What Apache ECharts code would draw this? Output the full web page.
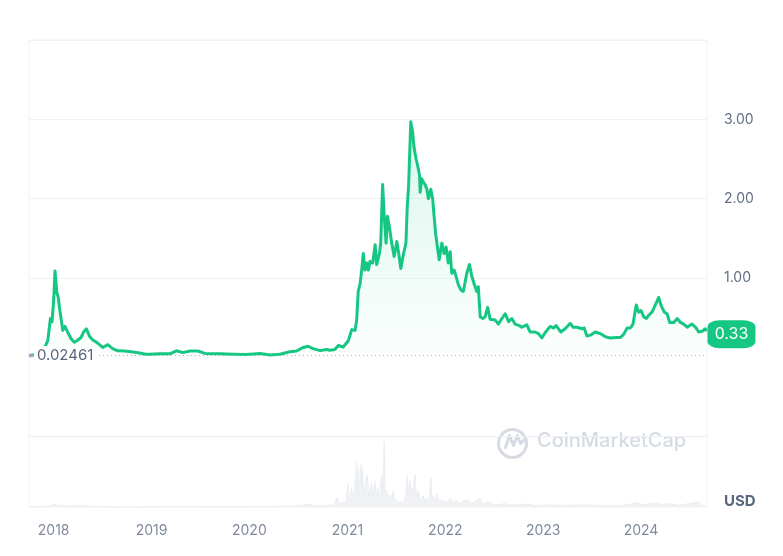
<!DOCTYPE html>
<html>
<head>
<meta charset="utf-8">
<script src="https://cdn.jsdelivr.net/npm/echarts@6/dist/echarts.min.js"></script>
<style>
html,body{margin:0;padding:0;background:#fff;}
#c{width:783px;height:556px;}
</style>
</head>
<body>
<div id="c"></div>
<script>
const priceDates = ['2017-10-01','2017-10-18','2017-11-05','2017-11-20','2017-11-28','2017-12-03','2017-12-10','2017-12-20','2017-12-26','2018-01-01','2018-01-06','2018-01-13','2018-01-18','2018-01-23','2018-01-28','2018-02-04','2018-02-12','2018-02-22','2018-03-07','2018-03-19','2018-03-29','2018-04-13','2018-04-23','2018-05-03','2018-05-14','2018-05-27','2018-06-14','2018-07-03','2018-07-22','2018-08-09','2018-08-28','2018-09-22','2018-10-17','2018-11-18','2018-12-10','2018-12-25','2019-02-01','2019-03-10','2019-04-04','2019-04-28','2019-05-24','2019-06-23','2019-07-19','2019-09-13','2019-10-31','2019-12-21','2020-02-09','2020-03-18','2020-04-24','2020-05-31','2020-06-25','2020-07-20','2020-08-07','2020-08-25','2020-09-21','2020-10-15','2020-10-28','2020-11-15','2020-11-28','2020-12-16','2021-01-04','2021-01-17','2021-01-29','2021-02-04','2021-02-10','2021-02-17','2021-02-23','2021-03-01','2021-03-07','2021-03-14','2021-03-20','2021-03-26','2021-04-05','2021-04-14','2021-04-20','2021-04-30','2021-05-05','2021-05-12','2021-05-18','2021-05-25','2021-05-30','2021-06-06','2021-06-15','2021-06-24','2021-07-04','2021-07-11','2021-07-19','2021-07-28','2021-08-07','2021-08-12','2021-08-17','2021-08-25','2021-09-01','2021-09-06','2021-09-14','2021-09-22','2021-09-27','2021-09-29','2021-10-05','2021-10-11','2021-10-17','2021-10-24','2021-10-30','2021-11-08','2021-11-15','2021-11-20','2021-11-26','2021-11-30','2021-12-09','2021-12-19','2021-12-27','2022-01-04','2022-01-12','2022-01-19','2022-01-25','2022-02-03','2022-02-10','2022-02-19','2022-02-28','2022-03-09','2022-03-22','2022-04-01','2022-04-10','2022-04-18','2022-04-28','2022-05-04','2022-05-11','2022-05-21','2022-05-29','2022-06-08','2022-06-17','2022-07-06','2022-07-18','2022-07-31','2022-08-12','2022-08-25','2022-09-06','2022-09-12','2022-09-18','2022-10-04','2022-10-13','2022-11-01','2022-11-13','2022-12-02','2022-12-14','2022-12-27','2023-01-08','2023-01-27','2023-02-08','2023-02-18','2023-03-08','2023-03-24','2023-04-12','2023-04-22','2023-05-07','2023-05-25','2023-06-03','2023-06-13','2023-06-26','2023-07-14','2023-08-02','2023-08-21','2023-09-08','2023-10-01','2023-10-16','2023-10-28','2023-11-10','2023-11-22','2023-12-02','2023-12-14','2023-12-23','2024-01-01','2024-01-11','2024-01-21','2024-01-29','2024-02-11','2024-02-23','2024-03-07','2024-03-13','2024-03-19','2024-03-28','2024-04-07','2024-04-17','2024-05-02','2024-05-15','2024-05-27','2024-06-08','2024-06-21','2024-07-09','2024-07-22','2024-08-03','2024-08-16','2024-08-28','2024-09-01'];

const prices = [0.0246,0.03,0.035,0.07,0.12,0.14,0.21,0.49,0.45,0.72,1.09,0.81,0.76,0.62,0.60,0.34,0.39,0.32,0.235,0.19,0.21,0.25,0.32,0.36,0.27,0.22,0.18,0.125,0.16,0.11,0.083,0.08,0.07,0.055,0.04,0.04,0.045,0.045,0.083,0.06,0.08,0.08,0.05,0.045,0.04,0.035,0.05,0.03,0.04,0.07,0.08,0.125,0.14,0.11,0.085,0.10,0.09,0.10,0.15,0.13,0.21,0.35,0.34,0.46,0.83,0.93,1.10,1.31,1.10,1.19,1.10,1.21,1.19,1.42,1.17,1.31,1.44,2.18,1.78,1.44,1.78,1.65,1.44,1.27,1.46,1.31,1.12,1.29,1.44,1.91,2.16,2.97,2.84,2.65,2.50,2.38,2.29,2.08,2.25,2.21,2.18,2.12,2.0,2.12,1.99,1.78,1.55,1.57,1.23,1.44,1.31,1.39,1.19,1.33,1.06,1.10,1.02,0.91,0.85,0.83,1.06,1.17,1.02,0.93,0.83,0.89,0.51,0.49,0.51,0.63,0.48,0.47,0.42,0.49,0.55,0.45,0.49,0.51,0.42,0.40,0.38,0.41,0.32,0.32,0.30,0.245,0.31,0.39,0.37,0.40,0.32,0.36,0.43,0.38,0.38,0.36,0.37,0.27,0.28,0.32,0.30,0.26,0.245,0.25,0.25,0.29,0.37,0.37,0.42,0.66,0.57,0.59,0.51,0.49,0.53,0.57,0.66,0.755,0.68,0.63,0.57,0.55,0.44,0.44,0.49,0.44,0.42,0.38,0.42,0.38,0.32,0.33,0.36,0.33];

const volDates = ['2017-10-01','2017-12-10','2017-12-20','2018-01-05','2018-01-15','2018-02-05','2018-02-20','2018-04-25','2018-05-10','2018-07-01','2018-10-01','2019-04-05','2019-06-20','2019-10-01','2020-03-15','2020-06-01','2020-07-20','2020-08-07','2020-08-25','2020-09-20','2020-10-15','2020-11-10','2020-11-22','2020-12-05','2020-12-16','2020-12-26','2021-01-02','2021-01-08','2021-01-16','2021-01-24','2021-02-04','2021-02-08','2021-02-11','2021-02-15','2021-02-21','2021-02-24','2021-02-26','2021-03-04','2021-03-15','2021-03-22','2021-04-01','2021-04-07','2021-04-14','2021-04-19','2021-04-24','2021-05-01','2021-05-08','2021-05-13','2021-05-18','2021-05-21','2021-05-27','2021-06-03','2021-06-09','2021-06-14','2021-06-20','2021-06-27','2021-07-04','2021-07-12','2021-07-23','2021-07-30','2021-08-06','2021-08-12','2021-08-16','2021-08-22','2021-08-29','2021-09-03','2021-09-10','2021-09-15','2021-09-22','2021-09-30','2021-10-11','2021-10-17','2021-10-24','2021-11-01','2021-11-08','2021-11-12','2021-11-17','2021-11-24','2021-11-30','2021-12-08','2021-12-23','2022-01-05','2022-01-19','2022-01-28','2022-02-13','2022-02-25','2022-03-09','2022-03-28','2022-04-10','2022-04-28','2022-05-11','2022-05-20','2022-06-13','2022-07-01','2022-08-12','2022-09-01','2022-11-09','2022-12-01','2023-01-15','2023-03-10','2023-06-10','2023-08-17','2023-10-01','2023-11-15','2023-12-14','2024-01-05','2024-03-05','2024-03-15','2024-04-13','2024-05-20','2024-08-05','2024-08-10','2024-09-01'];

const volumes = [0.02,0.2,0.5,0.9,0.4,0.6,0.2,0.5,0.2,0.1,0.05,0.15,0.12,0.08,0.15,0.2,0.6,0.9,0.5,0.3,0.4,0.6,2.7,0.9,1.5,0.8,7.2,1.5,5.7,1.8,13.5,3.0,12.0,4.0,12.6,5.0,11.1,3.5,9.6,3.0,7.2,3.0,7.8,2.5,5.7,2.5,9.6,4.0,19.5,4.5,5.1,2.0,3.6,1.5,4.8,1.5,2.1,1.2,1.8,1.2,3.0,9.3,3.5,8.1,3.0,6.0,9.6,3.0,4.8,1.8,3.3,1.5,2.7,1.5,8.7,2.0,3.3,1.5,4.2,1.5,2.1,1.2,2.7,1.5,1.8,1.0,1.8,2.0,1.0,2.1,2.4,0.9,1.5,0.6,1.0,0.5,0.9,0.4,0.6,0.5,0.6,0.4,0.3,0.7,1.3,0.7,1.2,0.7,1.0,0.5,1.5,0.5,0.4];

const yTicks = ['1.00','2.00','3.00'];
const xTickYears = ['2018','2019','2020','2021','2022','2023','2024'];
const startPrice = 0.02461;
const lastPrice = 0.33;
const lastDate = '2024-09-01';

const chart = echarts.init(document.getElementById('c'), null, {renderer: 'canvas'});
const FONT = 'Inter, "Noto Sans", sans-serif';
const xMin = '2017-10-01', xMax = '2024-09-03';

const option = {
  animation: false,
  backgroundColor: '#fff',
  grid: [
    {left: 29, right: 76, top: 40, height: 396.7, show: true, borderColor: '#eff2f5', borderWidth: 1, backgroundColor: 'transparent'},
    {left: 29, right: 76, top: 436.7, height: 70.3, show: true, borderColor: '#eff2f5', borderWidth: 1, backgroundColor: 'transparent'}
  ],
  xAxis: [
    {type: 'time', gridIndex: 0, min: xMin, max: xMax, axisLine: {show: false}, axisTick: {show: false}, axisLabel: {show: false}, splitLine: {show: false}},
    {type: 'time', gridIndex: 1, min: xMin, max: xMax, splitNumber: 7,
      axisLine: {show: false}, axisTick: {show: false}, splitLine: {show: false},
      axisLabel: {margin: 17, color: '#808a9d', fontSize: 14, fontFamily: FONT, hideOverlap: false,
        formatter: function (val) {
          const d = new Date(val);
          const y = String(d.getFullYear());
          return (d.getMonth() === 0 && d.getDate() === 1 && xTickYears.indexOf(y) >= 0) ? y : '';
        }}}
  ],
  yAxis: [
    {type: 'value', gridIndex: 0, position: 'right', min: -1, max: 4, interval: 1,
      axisLine: {show: false}, axisTick: {show: false},
      axisLabel: {margin: 17, color: '#616e85', fontSize: 14, fontFamily: FONT, verticalAlign: 'middle', padding: [3, 0, 0, 0],
        formatter: function (v) { const s = v.toFixed(2); return yTicks.indexOf(s) >= 0 ? s : ''; }},
      splitLine: {show: true, lineStyle: {color: ['#eff2f5', 'rgba(0,0,0,0)', '#eff2f5', '#eff2f5', '#eff2f5', '#eff2f5'], width: 1}}},
    {type: 'value', gridIndex: 1, min: 0, max: 21, show: false, splitLine: {show: false}}
  ],
  series: [
    {
      type: 'line', name: 'Volume', xAxisIndex: 1, yAxisIndex: 1,
      data: volDates.map((d, i) => [d, volumes[i]]),
      showSymbol: false, symbol: 'none',
      lineStyle: {width: 1, color: '#eaedf1'},
      areaStyle: {color: '#f0f2f5', opacity: 1},
      silent: true
    },
    {
      type: 'line', name: 'Price', xAxisIndex: 0, yAxisIndex: 0,
      data: priceDates.map((d, i) => [d, prices[i]]),
      showSymbol: false, symbol: 'none', z: 3,
      lineStyle: {width: 3, color: '#16c784', join: 'round'},
      areaStyle: {color: new echarts.graphic.LinearGradient(0, 0, 0, 1, [
        {offset: 0, color: 'rgba(22,199,132,0.22)'},
        {offset: 1, color: 'rgba(22,199,132,0.02)'}
      ])},
      markLine: {
        silent: true, animation: false,
        symbol: ['circle', 'none'], symbolSize: 4,
        lineStyle: {type: [1, 3], color: '#a1a7bb', width: 1},
        label: {show: true, position: 'insideStart', distance: [3, 0], formatter: '0.02461',
          color: '#58667e', fontSize: 15, fontFamily: FONT, backgroundColor: '#fff', padding: [2, 3]},
        emphasis: {disabled: true},
        data: [[{coord: ['2017-10-08', startPrice], itemStyle: {color: '#8d96a8'}}, {coord: [lastDate, startPrice]}]]
      },
      markPoint: {
        silent: true, animation: false,
        symbol: 'roundRect', symbolSize: [48, 28], symbolOffset: [25, 3],
        itemStyle: {color: '#16c784'},
        label: {show: true, color: '#fff', fontSize: 16, fontFamily: FONT, formatter: String(lastPrice.toFixed(2))},
        data: [{coord: [lastDate, lastPrice]}]
      }
    }
  ],
  graphic: [
    {type: 'circle', left: 496, top: 427, shape: {r: 14}, style: {fill: 'none', stroke: '#d6dbe3', lineWidth: 3}, silent: true, z: 0},
    {type: 'polyline', left: 503, top: 433, shape: {points: [[0, 14], [4, 2], [8, 12], [12, 2], [15, 10], [18, 7]]}, style: {fill: 'none', stroke: '#d6dbe3', lineWidth: 3, lineJoin: 'round', lineCap: 'round'}, silent: true, z: 0},
    {type: 'text', left: 537, top: 431, style: {text: 'CoinMarketCap', font: '500 20px ' + FONT, fill: '#d6dbe3'}, silent: true, z: 0},
    {type: 'text', left: 724, top: 494, style: {text: 'USD', font: 'bold 15px ' + FONT, fill: '#58667e'}, silent: true}
  ]
};
chart.setOption(option);
</script>
</body>
</html>
